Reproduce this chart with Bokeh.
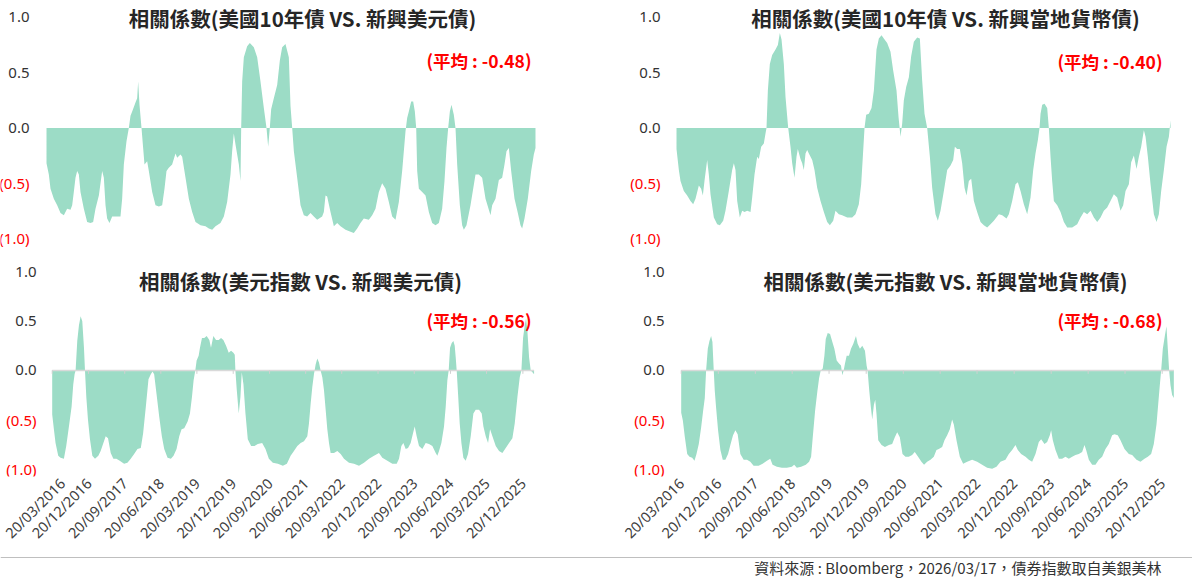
import math
import numpy as np
import pandas as pd
from bokeh.plotting import figure
from bokeh.layouts import column, row
from bokeh.models import (Range1d, FixedTicker, Label, Span, ColumnDataSource,
                          DatetimeTickFormatter)
from bokeh.embed import file_html
from bokeh.resources import INLINE

# ---------------------------------------------------------------- data
START = "2016-03-20"
DAYS_PER_MONTH = 30.4375

titles = [
    "相關係數(美國10年債 VS. 新興美元債)",
    "相關係數(美國10年債 VS. 新興當地貨幣債)",
    "相關係數(美元指數 VS. 新興美元債)",
    "相關係數(美元指數 VS. 新興當地貨幣債)",
]
averages = [-0.48, -0.40, -0.56, -0.68]
source_text = "資料來源 : Bloomberg，2026/03/17，債券指數取自美銀美林"

ytick_vals = [1.0, 0.5, 0.0, -0.5, -1.0]
ytick_labels = ["1.0", "0.5", "0.0", "(0.5)", "(1.0)"]

xtick_dates = ["2016-03-20", "2016-12-20", "2017-09-20", "2018-06-20", "2019-03-20",
               "2019-12-20", "2020-09-20", "2021-06-20", "2022-03-20", "2022-12-20",
               "2023-09-20", "2024-06-20", "2025-03-20", "2025-12-20"]
xtick_labels = ["20/03/2016", "20/12/2016", "20/09/2017", "20/06/2018", "20/03/2019",
                "20/12/2019", "20/09/2020", "20/06/2021", "20/03/2022", "20/12/2022",
                "20/09/2023", "20/06/2024", "20/03/2025", "20/12/2025"]

# (months after 20/03/2016, correlation) -- 美國10年債 VS. 新興美元債
ust_usd = [
    (0, -0.32), (0.57, -0.42), (0.98, -0.55), (1.79, -0.64), (2.61, -0.70), (3.42, -0.77),
    (4.24, -0.79), (5.05, -0.73), (5.87, -0.74), (6.28, -0.70), (6.68, -0.58), (7.09, -0.45),
    (7.50, -0.39), (7.91, -0.42), (8.31, -0.58), (9.13, -0.73), (9.94, -0.85), (10.76, -0.86),
    (11.41, -0.85), (11.98, -0.73), (12.80, -0.61), (13.61, -0.39), (14.02, -0.45), (14.43, -0.70),
    (14.83, -0.82), (15.40, -0.86), (16.06, -0.80), (16.87, -0.80), (18.09, -0.80), (18.50, -0.64),
    (18.91, -0.33), (19.56, -0.12), (20.13, 0.0), (20.54, 0.11), (20.95, 0.15), (21.76, 0.23),
    (22.17, 0.27), (22.41, 0.42), (22.74, 0.21), (23.23, 0.0), (23.63, -0.18), (23.96, -0.33),
    (24.61, -0.30), (25.02, -0.39), (25.84, -0.58), (26.65, -0.70), (27.47, -0.71), (28.28, -0.70),
    (28.85, -0.55), (29.34, -0.39), (29.91, -0.36), (30.72, -0.33), (31.54, -0.23), (31.95, -0.27),
    (32.76, -0.24), (33.17, -0.26), (33.99, -0.45), (34.80, -0.64), (35.62, -0.76), (36.43, -0.85),
    (37.65, -0.88), (38.88, -0.89), (39.69, -0.91), (40.51, -0.92), (41.32, -0.89), (42.54, -0.86),
    (43.36, -0.80), (44.17, -0.67), (44.99, -0.42), (45.39, -0.21), (45.80, -0.05), (46.21, -0.15),
    (46.62, -0.24), (47.03, -0.33), (47.43, -0.48), (47.60, 0.0), (47.84, 0.42), (48.25, 0.64),
    (49.06, 0.74), (49.71, 0.77), (50.69, 0.73), (51.51, 0.64), (52.32, 0.42), (53.14, 0.18),
    (53.79, 0.0), (54.20, -0.17), (54.60, 0.0), (54.93, 0.17), (55.58, 0.27), (56.40, 0.39),
    (57.05, 0.61), (57.62, 0.73), (58.43, 0.76), (59.25, 0.64), (59.66, 0.20), (60.07, 0.0),
    (60.48, -0.21), (61.29, -0.45), (62.11, -0.70), (62.92, -0.79), (63.73, -0.80), (64.55, -0.77),
    (65.36, -0.80), (66.18, -0.83), (67.40, -0.80), (67.81, -0.76), (68.22, -0.61), (68.62, -0.62),
    (69.44, -0.76), (70.26, -0.89), (71.07, -0.86), (71.89, -0.89), (73.11, -0.92), (74.33, -0.94),
    (75.14, -0.95), (75.96, -0.91), (76.77, -0.86), (77.59, -0.82), (78.81, -0.83), (79.63, -0.79),
    (80.44, -0.73), (81.26, -0.58), (82.07, -0.50), (82.89, -0.55), (83.70, -0.67), (84.52, -0.80),
    (85.33, -0.83), (86.15, -0.67), (86.96, -0.39), (87.78, -0.03), (88.18, 0.09), (88.59, 0.15),
    (89.16, 0.24), (89.65, 0.24), (90.06, 0.15), (90.39, 0.0), (90.63, -0.39), (91.04, -0.55),
    (91.85, -0.58), (92.67, -0.61), (93.48, -0.76), (94.30, -0.86), (95.11, -0.88), (95.93, -0.86),
    (96.74, -0.73), (97.31, -0.48), (97.80, -0.18), (98.21, 0.0), (98.62, 0.15), (99.02, 0.21),
    (99.59, 0.12), (100.00, 0.0), (100.41, -0.33), (101.06, -0.70), (101.63, -0.88), (102.04, -0.92),
    (102.69, -0.88), (103.67, -0.70), (104.89, -0.42), (105.71, -0.42), (106.52, -0.45), (107.34, -0.64),
    (108.15, -0.74), (108.56, -0.79), (108.97, -0.70), (109.78, -0.64), (110.60, -0.47), (111.41, -0.45),
    (111.98, -0.33), (112.47, -0.21), (113.04, -0.18), (113.61, -0.39), (114.43, -0.64), (115.24, -0.77),
    (115.89, -0.88), (116.30, -0.91), (116.87, -0.82), (117.68, -0.64), (118.50, -0.39), (119.15, -0.24),
    (119.56, -0.18),
]

# 美國10年債 VS. 新興當地貨幣債
ust_local = [
    (0, -0.19), (0.57, -0.38), (0.97, -0.48), (1.78, -0.57), (2.59, -0.61), (3.40, -0.66),
    (4.05, -0.69), (4.62, -0.64), (5.43, -0.52), (5.99, -0.55), (6.40, -0.61), (6.80, -0.48),
    (7.45, -0.29), (7.85, -0.42), (8.26, -0.60), (9.07, -0.81), (9.88, -0.87), (10.53, -0.88),
    (11.34, -0.84), (11.90, -0.75), (12.71, -0.57), (13.52, -0.38), (13.93, -0.32), (14.33, -0.38),
    (14.74, -0.66), (15.38, -0.81), (15.95, -0.75), (16.52, -0.76), (17.17, -0.75), (17.98, -0.76),
    (18.38, -0.63), (18.95, -0.42), (19.60, -0.26), (20.00, -0.28), (20.57, -0.17), (21.21, -0.14),
    (21.62, -0.05), (21.86, 0.0), (22.19, 0.34), (22.67, 0.58), (23.24, 0.66), (24.05, 0.71),
    (24.62, 0.75), (25.10, 0.86), (25.51, 0.80), (26.07, 0.58), (26.48, 0.28), (27.13, 0.0),
    (27.69, -0.17), (28.10, -0.32), (28.66, -0.45), (29.15, -0.26), (29.47, -0.19), (30.12, -0.28),
    (30.53, -0.32), (30.93, -0.38), (31.34, -0.23), (31.74, -0.20), (32.15, -0.23), (32.96, -0.29),
    (33.52, -0.38), (34.17, -0.54), (34.98, -0.66), (35.79, -0.76), (36.60, -0.85), (37.25, -0.88),
    (38.06, -0.84), (38.62, -0.75), (39.43, -0.78), (40.24, -0.79), (41.46, -0.81), (42.67, -0.81),
    (43.48, -0.78), (44.29, -0.69), (44.86, -0.51), (45.26, -0.26), (45.67, 0.0), (46.07, 0.12),
    (46.72, 0.13), (47.37, 0.18), (47.94, 0.34), (48.58, 0.71), (49.15, 0.81), (49.80, 0.84),
    (50.36, 0.81), (51.17, 0.77), (51.98, 0.69), (52.63, 0.52), (53.44, 0.34), (53.93, 0.10),
    (54.41, -0.08), (54.82, 0.04), (55.22, 0.25), (55.79, 0.37), (56.44, 0.46), (57.00, 0.65),
    (57.65, 0.78), (58.46, 0.82), (59.11, 0.81), (59.67, 0.43), (60.24, 0.13), (60.89, 0.0),
    (61.54, -0.26), (62.10, -0.54), (62.91, -0.78), (63.48, -0.84), (64.13, -0.75), (64.94, -0.57),
    (65.75, -0.38), (66.56, -0.34), (67.21, -0.29), (67.61, -0.17), (68.18, -0.19), (68.82, -0.19),
    (69.39, -0.32), (69.96, -0.54), (70.44, -0.61), (71.01, -0.48), (71.58, -0.46), (72.23, -0.66),
    (73.03, -0.76), (73.85, -0.85), (74.65, -0.88), (75.46, -0.90), (76.27, -0.87), (77.08, -0.84),
    (78.30, -0.78), (79.11, -0.79), (80.16, -0.82), (80.73, -0.78), (81.54, -0.66), (82.35, -0.51),
    (82.91, -0.49), (83.56, -0.57), (84.37, -0.69), (85.18, -0.78), (85.99, -0.63), (86.64, -0.38),
    (87.20, -0.23), (87.77, -0.11), (88.18, 0.0), (88.42, 0.13), (88.83, 0.21), (89.39, 0.22),
    (90.04, 0.18), (90.44, 0.0), (90.85, -0.26), (91.25, -0.48), (91.66, -0.66), (92.47, -0.70),
    (93.28, -0.76), (94.09, -0.85), (94.90, -0.90), (96.11, -0.90), (97.33, -0.87), (98.14, -0.81),
    (98.95, -0.76), (99.76, -0.78), (100.57, -0.75), (101.38, -0.81), (102.19, -0.85), (103.00, -0.81),
    (103.80, -0.75), (104.61, -0.72), (105.42, -0.66), (106.23, -0.60), (107.04, -0.63), (107.85, -0.75),
    (108.50, -0.70), (109.07, -0.57), (109.88, -0.51), (110.44, -0.31), (111.09, -0.25), (111.74, -0.37),
    (112.31, -0.26), (112.87, -0.17), (113.52, -0.02), (113.93, -0.08), (114.49, -0.26), (115.14, -0.51),
    (115.95, -0.78), (116.60, -0.85), (117.16, -0.78), (117.73, -0.57), (118.38, -0.38), (119.03, -0.17),
    (119.60, -0.08), (120.0, 0.07),
]

# 美元指數 VS. 新興美元債
dxy_usd = [
    (0, -0.45), (0.42, -0.60), (0.83, -0.74), (1.50, -0.87), (2.08, -0.89), (2.91, -0.90),
    (3.49, -0.77), (4.16, -0.57), (4.82, -0.37), (5.24, -0.14), (5.57, -0.04), (5.82, 0.0),
    (6.23, 0.30), (6.65, 0.46), (7.07, 0.55), (7.48, 0.50), (7.90, 0.23), (8.15, 0.0),
    (8.48, -0.27), (8.89, -0.50), (9.39, -0.70), (9.98, -0.87), (10.64, -0.90), (11.47, -0.87),
    (12.05, -0.82), (12.64, -0.75), (13.30, -0.67), (13.88, -0.69), (14.55, -0.84), (15.21, -0.90),
    (15.96, -0.90), (16.79, -0.92), (17.87, -0.95), (18.70, -0.94), (19.53, -0.90), (20.37, -0.85),
    (21.20, -0.80), (22.03, -0.79), (22.61, -0.64), (23.28, -0.37), (23.94, -0.09), (24.52, -0.04),
    (24.94, -0.01), (25.35, -0.04), (25.94, -0.24), (26.60, -0.47), (27.26, -0.67), (27.85, -0.80),
    (28.68, -0.89), (29.51, -0.90), (30.17, -0.87), (30.92, -0.80), (31.59, -0.67), (32.17, -0.60),
    (32.83, -0.59), (33.67, -0.52), (34.25, -0.44), (34.75, -0.27), (35.16, -0.10), (35.58, 0.0),
    (35.91, 0.10), (36.41, 0.15), (36.74, 0.23), (37.24, 0.33), (37.82, 0.33), (38.40, 0.35),
    (39.07, 0.31), (39.48, 0.23), (40.07, 0.35), (40.73, 0.31), (41.40, 0.31), (41.98, 0.33),
    (42.56, 0.31), (43.23, 0.25), (43.89, 0.18), (44.47, 0.20), (45.05, 0.18), (45.39, 0.16),
    (45.55, 0.0), (45.89, -0.20), (46.38, -0.44), (46.80, -0.27), (47.13, -0.02), (47.55, -0.14),
    (48.05, -0.44), (48.63, -0.70), (49.46, -0.77), (50.29, -0.77), (51.12, -0.75), (52.20, -0.74),
    (53.03, -0.80), (53.87, -0.90), (54.86, -0.94), (56.11, -0.95), (57.36, -0.97), (58.35, -0.95),
    (59.28, -0.87), (60.11, -0.82), (60.94, -0.77), (61.77, -0.74), (62.60, -0.72), (63.43, -0.67),
    (63.84, -0.54), (64.26, -0.34), (64.67, -0.17), (65.08, -0.04), (65.50, 0.06), (65.91, 0.12),
    (66.33, 0.08), (66.74, 0.0), (67.16, -0.07), (67.57, -0.20), (67.99, -0.40), (68.40, -0.60),
    (68.82, -0.74), (69.23, -0.84), (70.06, -0.84), (70.89, -0.82), (71.72, -0.85), (72.55, -0.90),
    (73.79, -0.94), (75.03, -0.95), (76.28, -0.97), (77.52, -0.94), (78.77, -0.90), (80.01, -0.87),
    (81.25, -0.84), (82.08, -0.89), (83.33, -0.92), (84.57, -0.95), (85.65, -0.95), (86.23, -0.90),
    (86.81, -0.77), (87.31, -0.74), (87.89, -0.80), (88.47, -0.79), (89.13, -0.74), (89.71, -0.64),
    (90.13, -0.57), (90.62, -0.67), (91.20, -0.77), (92.03, -0.80), (92.86, -0.74), (93.69, -0.75),
    (94.52, -0.77), (95.35, -0.84), (95.76, -0.87), (96.18, -0.82), (96.76, -0.74), (97.42, -0.57),
    (97.84, -0.37), (98.25, -0.10), (98.58, 0.0), (98.92, 0.23), (99.33, 0.28), (99.75, 0.30),
    (100.08, 0.25), (100.33, 0.13), (100.57, 0.0), (100.91, -0.24), (101.32, -0.54), (101.74, -0.74),
    (102.23, -0.89), (102.81, -0.92), (103.39, -0.85), (104.06, -0.67), (104.72, -0.44), (105.30, -0.40),
    (106.13, -0.40), (106.79, -0.44), (107.21, -0.57), (107.79, -0.67), (108.37, -0.74), (108.87, -0.60),
    (109.45, -0.67), (110.28, -0.77), (111.10, -0.82), (111.93, -0.84), (112.76, -0.79), (113.59, -0.74),
    (114.42, -0.69), (115.00, -0.54), (115.67, -0.27), (116.25, -0.07), (116.66, 0.0), (117.07, 0.33),
    (117.49, 0.46), (117.82, 0.53), (118.15, 0.40), (118.57, 0.13), (118.98, 0.0), (119.40, -0.02),
    (119.81, -0.04),
]

# 美元指數 VS. 新興當地貨幣債
dxy_local = [
    (0, -0.43), (0.40, -0.51), (0.89, -0.68), (1.46, -0.85), (2.02, -0.88), (2.67, -0.89),
    (3.23, -0.92), (3.72, -0.85), (4.28, -0.75), (4.85, -0.58), (5.34, -0.41), (5.74, -0.28),
    (6.06, 0.0), (6.47, 0.22), (6.87, 0.30), (7.28, 0.35), (7.60, 0.29), (7.92, 0.0),
    (8.17, -0.21), (8.49, -0.38), (8.97, -0.61), (9.54, -0.81), (10.11, -0.91), (10.75, -0.91),
    (11.40, -0.85), (11.96, -0.76), (12.61, -0.66), (13.18, -0.61), (13.74, -0.65), (14.39, -0.85),
    (15.20, -0.91), (16.01, -0.91), (16.82, -0.93), (17.62, -0.97), (18.84, -0.97), (19.81, -0.95),
    (20.86, -0.92), (21.67, -0.90), (22.23, -0.96), (23.28, -0.98), (24.49, -0.99), (25.71, -0.99),
    (26.92, -0.98), (27.49, -0.96), (28.13, -0.99), (29.18, -0.98), (30.32, -0.96), (31.12, -0.93),
    (31.61, -0.88), (32.01, -0.68), (32.58, -0.41), (33.14, -0.21), (33.55, -0.08), (33.95, 0.0),
    (34.44, 0.02), (34.84, 0.15), (35.17, 0.32), (35.65, 0.38), (36.22, 0.37), (36.78, 0.29),
    (37.27, 0.22), (37.83, 0.10), (38.40, 0.07), (38.88, 0.05), (39.21, -0.05), (39.53, 0.0),
    (39.85, 0.07), (40.26, 0.15), (40.82, 0.15), (41.31, 0.22), (41.88, 0.27), (42.52, 0.35),
    (42.93, 0.27), (43.49, 0.22), (44.06, 0.25), (44.71, 0.20), (45.11, 0.05), (45.35, 0.0),
    (45.76, -0.21), (46.16, -0.38), (46.48, -0.50), (46.89, -0.35), (47.21, -0.30), (47.53, -0.45),
    (47.94, -0.71), (48.75, -0.76), (49.56, -0.78), (50.53, -0.76), (51.33, -0.75), (51.98, -0.68),
    (52.55, -0.63), (53.19, -0.68), (53.84, -0.85), (54.57, -0.88), (55.38, -0.88), (56.18, -0.86),
    (56.83, -0.83), (57.64, -0.88), (58.45, -0.93), (59.09, -0.96), (59.84, -0.93), (60.65, -0.91),
    (61.46, -0.88), (62.11, -0.81), (62.68, -0.80), (63.49, -0.78), (64.06, -0.71), (64.71, -0.66),
    (65.36, -0.60), (65.92, -0.50), (66.33, -0.55), (66.98, -0.71), (67.79, -0.88), (68.60, -0.95),
    (69.57, -0.93), (70.79, -0.91), (72.01, -0.93), (73.22, -0.96), (74.44, -0.99), (75.66, -1.00),
    (76.71, -0.98), (77.68, -0.93), (78.90, -0.91), (79.71, -0.85), (80.52, -0.81), (81.33, -0.76),
    (81.90, -0.81), (82.71, -0.85), (83.77, -0.88), (84.58, -0.91), (85.39, -0.93), (86.20, -0.85),
    (87.01, -0.73), (87.58, -0.70), (88.39, -0.75), (89.04, -0.73), (89.69, -0.66), (90.01, -0.61),
    (90.42, -0.71), (91.07, -0.81), (91.88, -0.90), (92.69, -0.90), (93.50, -0.88), (94.31, -0.90),
    (95.12, -0.88), (95.93, -0.86), (96.74, -0.85), (97.55, -0.83), (98.12, -0.76), (98.53, -0.81),
    (99.18, -0.91), (99.99, -0.96), (100.80, -0.96), (101.61, -0.91), (102.42, -0.88), (103.23, -0.80),
    (104.04, -0.75), (104.85, -0.66), (105.42, -0.65), (106.23, -0.66), (106.88, -0.71), (107.86, -0.80),
    (108.91, -0.85), (109.72, -0.86), (110.78, -0.91), (111.75, -0.93), (112.72, -0.90), (113.53, -0.88),
    (114.34, -0.85), (114.99, -0.75), (115.64, -0.55), (116.05, -0.35), (116.45, -0.15), (116.78, 0.0),
    (117.18, 0.22), (117.67, 0.35), (118.07, 0.45), (118.40, 0.22), (118.72, 0.0), (119.05, -0.15),
    (119.45, -0.25), (119.86, -0.28),
]

# ---------------------------------------------------------------- style
GREEN = "#9CDCC6"
DARK = "#262626"
RED = "#FF0000"
ytick_colors = ["#333333", "#333333", "#333333", RED, RED]
CJK = "Noto Sans CJK TC"
LATIN = "Noto Sans"

start_ts = pd.Timestamp(START)
tick_ms = [int(pd.Timestamp(d).value // 10**6) for d in xtick_dates]


def to_dates(months):
    return start_ts + pd.to_timedelta(np.asarray(months, dtype=float) * DAYS_PER_MONTH, unit="D")


def make_panel(series, title, avg, width, height, x0px, px_per_month, bb, ylo, yhi,
               ylab_x, title_xy, avg_xy, bottom_axis):
    # the frame fills the whole figure width; the x range is chosen so that the
    # first observation sits x0px from the left edge
    x_lo = start_ts - pd.Timedelta(days=x0px / px_per_month * DAYS_PER_MONTH)
    x_hi = start_ts + pd.Timedelta(days=(width - x0px) / px_per_month * DAYS_PER_MONTH)
    p = figure(width=width, height=height,
               x_range=Range1d(x_lo, x_hi), y_range=Range1d(ylo, yhi),
               x_axis_type="datetime", toolbar_location=None, output_backend="svg",
               x_axis_location="below" if bottom_axis else None, y_axis_location=None,
               min_border_left=0, min_border_right=0, min_border_top=0,
               min_border_bottom=bb)
    p.outline_line_color = None
    p.background_fill_color = "white"
    p.border_fill_color = "white"
    for g in p.grid:
        g.visible = False

    months, vals = zip(*series)
    dates = to_dates(months)
    src = ColumnDataSource(dict(x=dates, y=list(vals)))
    p.varea(x="x", y1=0, y2="y", source=src, fill_color=GREEN, fill_alpha=1.0)

    if bottom_axis:
        p.segment(x0=[dates[0]], y0=[0], x1=[dates[-1]], y1=[0],
                  line_color="#D9D9D9", line_width=1.5)
        tick_dt = pd.to_datetime(xtick_dates)
        p.segment(x0=tick_dt, y0=0, x1=tick_dt, y1=-0.035, line_color="#D0D0D0",
                  line_width=1)
        ax = p.xaxis[0]
        ax.ticker = FixedTicker(ticks=tick_ms)
        ax.formatter = DatetimeTickFormatter(days="%d/%m/%Y", months="%d/%m/%Y",
                                             years="%d/%m/%Y")
        ax.major_label_overrides = dict(zip(tick_ms, xtick_labels))
        ax.major_label_orientation = math.pi / 4
        ax.axis_line_color = None
        ax.major_tick_line_color = None
        ax.minor_tick_line_color = None
        ax.major_tick_in = 0
        ax.major_tick_out = 0
        ax.major_label_standoff = 4
        ax.major_label_text_font = LATIN
        ax.major_label_text_font_size = "14.5px"
        ax.major_label_text_color = "#404040"

    for v, t, c in zip(ytick_vals, ytick_labels, ytick_colors):
        p.add_layout(Label(x=ylab_x, x_units="screen", y=v, y_units="data", text=t,
                           text_align="right", text_baseline="middle",
                           text_font=LATIN, text_font_size="15px", text_color=c))

    p.add_layout(Label(x=title_xy[0], y=title_xy[1], x_units="screen", y_units="screen",
                       text=title, text_align="center", text_baseline="middle",
                       text_font=CJK, text_font_style="bold", text_font_size="20.5px",
                       text_color=DARK))
    p.add_layout(Label(x=avg_xy[0], y=avg_xy[1], x_units="screen", y_units="screen",
                       text=f"(平均 : {avg:.2f})", text_align="right",
                       text_baseline="middle", text_font=CJK, text_font_style="bold",
                       text_font_size="17.5px", text_color=RED))
    return p


top_lo, top_hi = -1.1267, 1.1538
bot_lo, bot_hi = -1.08, 1.2

tl = make_panel(ust_usd, titles[0], averages[0], 596, 252, 46, 4.09, 0, top_lo, top_hi,
                29, (302, 235), (531, 192), False)
tr = make_panel(ust_local, titles[1], averages[1], 596, 252, 80, 4.117, 0, top_lo, top_hi,
                64, (349, 235), (566, 191), False)
bl = make_panel(dxy_usd, titles[2], averages[2], 596, 300, 51.7, 4.022, 72, bot_lo, bot_hi,
                36, (300, 196), (531, 156), True)
br = make_panel(dxy_local, titles[3], averages[3], 596, 300, 84.7, 4.11, 72, bot_lo, bot_hi,
                68, (349, 196), (566, 156), True)

foot = figure(width=1192, height=28, x_range=Range1d(0, 1192), y_range=Range1d(0, 28),
              toolbar_location=None, output_backend="svg", x_axis_location=None,
              y_axis_location=None, min_border=0)
foot.outline_line_color = None
for g in foot.grid:
    g.visible = False
foot.add_layout(Span(location=23, dimension="width", line_color="#BFBFBF", line_width=1))
foot.add_layout(Label(x=1161, y=13, text=source_text, text_align="right",
                      text_baseline="middle", text_font=CJK, text_font_size="15px",
                      text_color="#333333"))

layout = column(row(tl, tr), row(bl, br), foot)
open("out.html", "w").write(file_html(layout, INLINE))
